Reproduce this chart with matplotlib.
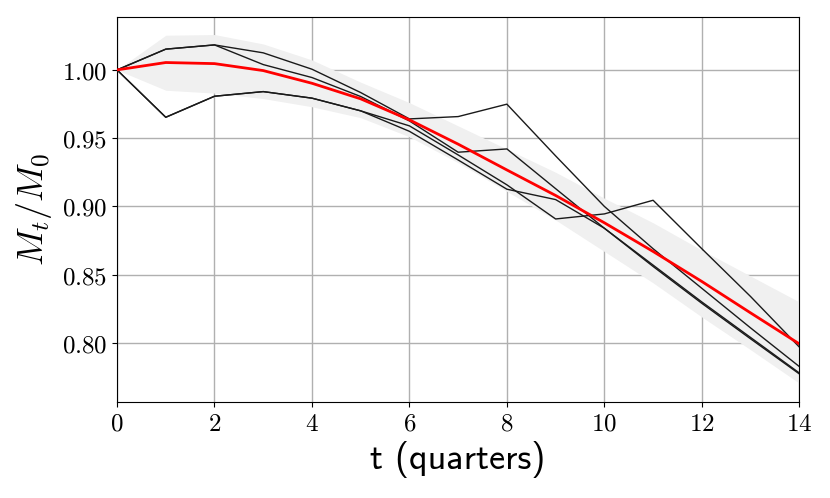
import matplotlib
matplotlib.use('Agg')
import matplotlib.pyplot as plt
from matplotlib.ticker import FuncFormatter
import numpy as np

plt.rcParams['mathtext.fontset'] = 'cm'

# quarters
t = np.arange(15)

# sample paths of M_t / M_0
path_a = [1.0, 1.0152, 1.0183, 1.0125, 1.0005, 0.9834, 0.9641, 0.9658, 0.9749,
          0.937, 0.900, 0.869, 0.840, 0.811, 0.7827]
path_b = [1.0, 1.0152, 1.0183, 1.0039, 0.9944, 0.9805, 0.9626, 0.9397, 0.9421,
          0.913, 0.884, 0.856, 0.829, 0.803, 0.7773]
path_c = [1.0, 0.9653, 0.9807, 0.9841, 0.9793, 0.970, 0.9590, 0.9377, 0.9158,
          0.8908, 0.8945, 0.9045, 0.869, 0.834, 0.797]
path_d = [1.0, 0.9653, 0.9807, 0.9841, 0.9793, 0.970, 0.9550, 0.9340, 0.9126,
          0.905, 0.884, 0.857, 0.830, 0.804, 0.778]

# mean path and band
mean_path = [1.0, 1.0054, 1.0046, 0.9995, 0.9902, 0.9788, 0.9634, 0.9456, 0.9267,
             0.908, 0.888, 0.867, 0.845, 0.822, 0.7993]
band_hi = [1.0, 1.0254, 1.0259, 1.019, 1.0073, 0.991, 0.976, 0.959, 0.942,
           0.925, 0.906, 0.888, 0.868, 0.849, 0.830]
band_lo = [1.0, 0.9851, 0.983, 0.979, 0.973, 0.965, 0.951, 0.932, 0.911,
           0.890, 0.867, 0.844, 0.819, 0.795, 0.7705]

fig = plt.figure(figsize=(8.3, 4.98), dpi=100)
ax = fig.add_axes([0.141, 0.193, 0.822, 0.773])

ax.fill_between(t, band_lo, band_hi, color='#f0f0f0', linewidth=0, zorder=1)
for p in [path_a, path_b, path_c, path_d]:
    ax.plot(t, p, color='#1a1a1a', linewidth=1.0, zorder=3)
ax.plot(t, mean_path, color='red', linewidth=2.0, zorder=4)

ax.set_xlim(0, 14)
ax.set_ylim(0.7568, 1.0388)
ax.set_xticks(np.arange(0, 15, 2))
ax.set_yticks([0.80, 0.85, 0.90, 0.95, 1.00])
ax.xaxis.set_major_formatter(FuncFormatter(lambda v, pos: r'$%d$' % v))
ax.yaxis.set_major_formatter(FuncFormatter(lambda v, pos: r'$%.2f$' % v))
ax.tick_params(labelsize=18)
ax.grid(True, color='#b0b0b0', linewidth=1.0, zorder=0)
ax.set_axisbelow(True)

ax.set_xlabel('t (quarters)', fontsize=26, family='cmss10', labelpad=4)
ax.set_ylabel(r'$M_t/M_0$', fontsize=26, labelpad=6)

fig.savefig('out.png', dpi=100)
